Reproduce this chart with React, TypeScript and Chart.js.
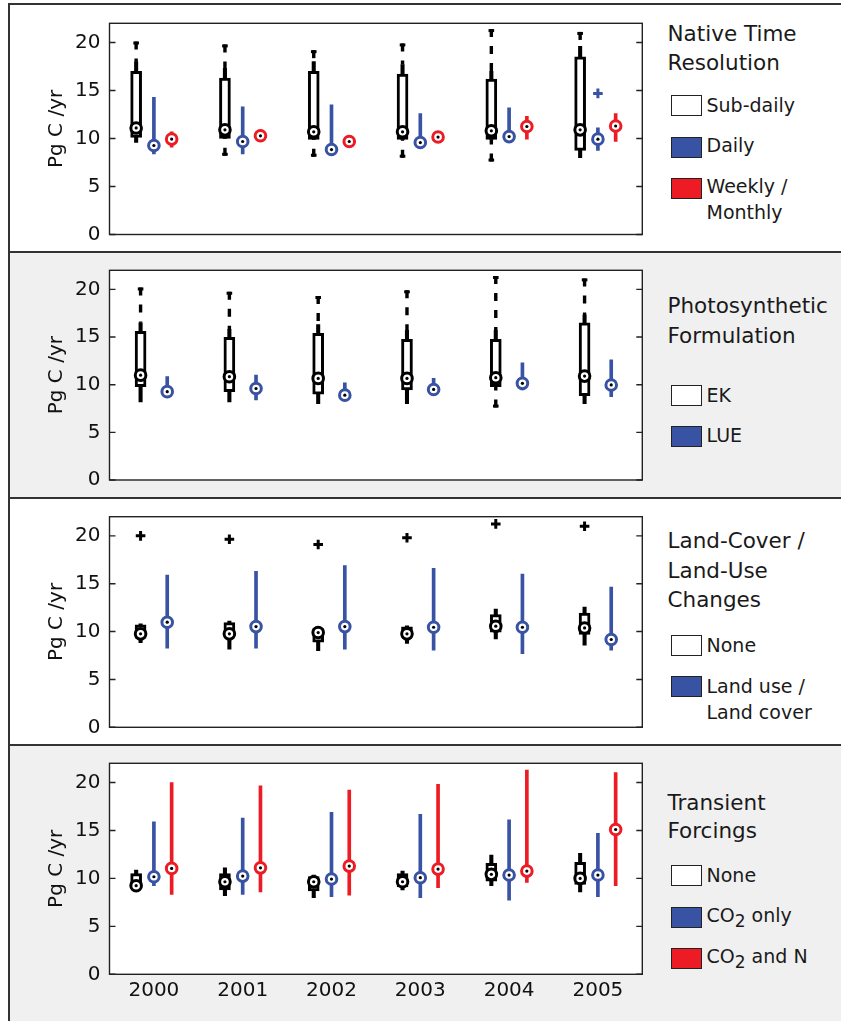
import React, { useEffect, useRef } from 'react';
import { Chart, registerables } from 'chart.js';

Chart.register(...registerables);

const FONT = "'DejaVu Sans', 'Liberation Sans', Arial, sans-serif";
const YEARS = ['2000', '2001', '2002', '2003', '2004', '2005'];
const Y_MIN = 0;
const Y_MAX = 22;
const Y_STEP = 5;
const Y_TITLE = 'Pg C /yr';

const BLACK = '#000000';
const BLUE = '#3953a4';
const RED = '#ed1c24';

// ---------- Panel 1: Native Time Resolution ----------
const NTR_SUB_MIN = [9.6, 8.2, 8.1, 8.0, 7.6, 8.0];
const NTR_SUB_LOWW = [9.6, 10.0, 9.9, 9.9, 9.9, 8.0];
const NTR_SUB_Q1 = [10.1, 10.0, 9.9, 9.9, 9.9, 8.75];
const NTR_SUB_MED = [11.1, 10.9, 10.7, 10.7, 10.8, 10.9];
const NTR_SUB_Q3 = [17.0, 16.3, 17.0, 16.7, 16.2, 18.5];
const NTR_SUB_HIGHW = [18.0, 17.3, 18.0, 17.7, 17.0, 19.6];
const NTR_SUB_MAX = [20.1, 19.8, 19.2, 19.9, 21.4, 21.1];

const NTR_DAY_LO = [8.4, 8.4, 8.5, 9.0, 9.7, 8.75];
const NTR_DAY_MED = [9.27, 9.69, 8.85, 9.58, 10.2, 9.93];
const NTR_DAY_HI = [14.3, 13.3, 13.5, 12.6, 13.2, 11.1];
const NTR_DAY_OUT = [null, null, null, null, null, 14.7];

const NTR_WEEK_LO = [9.1, 9.7, 9.4, 9.8, 9.93, 9.7];
const NTR_WEEK_MED = [9.94, 10.28, 9.69, 10.15, 11.25, 11.3];
const NTR_WEEK_HI = [10.7, 10.9, 10.0, 10.5, 12.3, 12.6];

// ---------- Panel 2: Photosynthetic Formulation ----------
const PF_EK_MIN = [8.2, 8.2, 8.0, 8.0, 7.6, 8.0];
const PF_EK_LOWW = [8.2, 8.2, 8.0, 8.0, 9.79, 8.0];
const PF_EK_Q1 = [9.79, 9.27, 9.0, 9.44, 9.79, 8.85];
const PF_EK_MED = [11.0, 10.84, 10.66, 10.66, 10.73, 10.9];
const PF_EK_Q3 = [15.6, 14.97, 15.4, 14.75, 14.75, 16.5];
const PF_EK_HIGHW = [16.5, 15.8, 16.3, 15.7, 15.7, 17.3];
const PF_EK_MAX = [20.2, 19.75, 19.3, 19.9, 21.4, 21.15];

const PF_LUE_LO = [9.0, 8.4, 8.6, 8.9, 9.44, 8.74];
const PF_LUE_MED = [9.27, 9.6, 8.9, 9.5, 10.14, 9.97];
const PF_LUE_HI = [10.84, 11.0, 10.2, 10.66, 12.3, 12.6];

// ---------- Panel 3: Land-Cover / Land-Use Changes ----------
const LC_NONE_MIN = [8.85, 8.15, 8.0, 8.75, 9.24, 8.58];
const LC_NONE_Q1 = [9.3, 9.4, 8.9, 9.4, 9.93, 9.7];
const LC_NONE_MED = [9.76, 9.76, 9.9, 9.76, 10.56, 10.38];
const LC_NONE_Q3 = [10.7, 10.94, 10.3, 10.5, 11.77, 11.94];
const LC_NONE_MAX = [10.8, 11.1, 10.4, 10.6, 12.36, 12.57];
const LC_NONE_OUT = [20.0, 19.65, 19.1, 19.8, 21.25, 21.0];

const LC_LU_LO = [8.26, 8.26, 8.15, 8.06, 7.7, 8.06];
const LC_LU_MED = [10.98, 10.52, 10.52, 10.45, 10.45, 9.17];
const LC_LU_HI = [15.9, 16.3, 16.9, 16.6, 16.0, 14.65];

// ---------- Panel 4: Transient Forcings ----------
const TF_NONE_MIN = [8.9, 8.2, 8.0, 8.8, 9.24, 8.6];
const TF_NONE_Q1 = [9.0, 8.8, 8.7, 9.1, 9.72, 9.38];
const TF_NONE_MED = [9.24, 9.65, 9.65, 9.65, 10.42, 10.0];
const TF_NONE_Q3 = [10.5, 10.5, 10.2, 10.5, 11.56, 11.67];
const TF_NONE_MAX = [10.87, 11.1, 10.35, 10.76, 12.43, 12.6];

const TF_CO2_LO = [9.24, 8.33, 8.1, 8.0, 7.74, 8.1];
const TF_CO2_MED = [10.17, 10.24, 9.93, 10.07, 10.35, 10.35];
const TF_CO2_HI = [15.9, 16.3, 16.9, 16.67, 16.1, 14.7];

const TF_CO2N_LO = [8.33, 8.6, 8.26, 9.03, 9.58, 9.24];
const TF_CO2N_MED = [11.04, 11.1, 11.28, 10.97, 10.76, 15.1];
const TF_CO2N_HI = [20.0, 19.65, 19.2, 19.8, 21.3, 21.04];

const NONE_OUT = [null, null, null, null, null, null];

type Series = {
  kind: 'box' | 'range';
  color: string;
  offset: number;
  min?: number[]; lowW?: number[]; q1?: number[]; q3?: number[]; highW?: number[]; max?: number[];
  lo?: number[]; hi?: number[];
  med: number[];
  out: (number | null)[];
};

const box = (color: string, offset: number, min: number[], lowW: number[], q1: number[], med: number[], q3: number[], highW: number[], max: number[], out: (number | null)[]): Series =>
  ({ kind: 'box', color, offset, min, lowW, q1, med, q3, highW, max, out });
const range = (color: string, offset: number, lo: number[], med: number[], hi: number[], out: (number | null)[]): Series =>
  ({ kind: 'range', color, offset, lo, med, hi, out });

const sub2 = (pre: string, post: string) => (
  <span>{pre}<span style={{ fontSize: 17, position: 'relative', top: 5 }}>2</span>{post}</span>
);

const PANELS: any[] = [
  {
    key: 'ntr', bg: '#ffffff', height: 246,
    padding: { left: 35, right: 17.7, top: 18.3, bottom: 16.5 }, showX: false,
    series: [
      box(BLACK, -0.2, NTR_SUB_MIN, NTR_SUB_LOWW, NTR_SUB_Q1, NTR_SUB_MED, NTR_SUB_Q3, NTR_SUB_HIGHW, NTR_SUB_MAX, NONE_OUT),
      range(BLUE, 0, NTR_DAY_LO, NTR_DAY_MED, NTR_DAY_HI, NTR_DAY_OUT),
      range(RED, 0.2, NTR_WEEK_LO, NTR_WEEK_MED, NTR_WEEK_HI, NONE_OUT),
    ],
    titles: [['Native Time', 17.5], ['Resolution', 46.8]],
    items: [
      { fill: '#ffffff', top: 90, lines: [['Sub-daily', 90.6]] },
      { fill: BLUE, top: 131.7, lines: [['Daily', 130.6]] },
      { fill: RED, top: 173.3, lines: [['Weekly /', 171.6], ['Monthly', 197.8]] },
    ],
  },
  {
    key: 'pf', bg: '#f0f0f0', height: 244,
    padding: { left: 35, right: 17.7, top: 17.3, bottom: 17 }, showX: false,
    series: [
      box(BLACK, -0.15, PF_EK_MIN, PF_EK_LOWW, PF_EK_Q1, PF_EK_MED, PF_EK_Q3, PF_EK_HIGHW, PF_EK_MAX, NONE_OUT),
      range(BLUE, 0.15, PF_LUE_LO, PF_LUE_MED, PF_LUE_HI, NONE_OUT),
    ],
    titles: [['Photosynthetic', 41.8], ['Formulation', 72.3]],
    items: [
      { fill: '#ffffff', top: 132, lines: [['EK', 132.6]] },
      { fill: BLUE, top: 172.5, lines: [['LUE', 173.1]] },
    ],
  },
  {
    key: 'lc', bg: '#ffffff', height: 245,
    padding: { left: 35, right: 17.7, top: 17.7, bottom: 16.7 }, showX: false,
    series: [
      box(BLACK, -0.15, LC_NONE_MIN, LC_NONE_MIN, LC_NONE_Q1, LC_NONE_MED, LC_NONE_Q3, LC_NONE_MAX, LC_NONE_MAX, LC_NONE_OUT),
      range(BLUE, 0.15, LC_LU_LO, LC_LU_MED, LC_LU_HI, NONE_OUT),
    ],
    titles: [['Land-Cover /', 30.8], ['Land-Use', 60.5], ['Changes', 90.3]],
    items: [
      { fill: '#ffffff', top: 136, lines: [['None', 136.6]] },
      { fill: BLUE, top: 177, lines: [['Land use /', 177.6], ['Land cover', 203.6]] },
    ],
  },
  {
    key: 'tf', bg: '#f0f0f0', height: 275,
    padding: { left: 35, right: 17.7, top: 17.3, bottom: 6.7 }, showX: true,
    series: [
      box(BLACK, -0.2, TF_NONE_MIN, TF_NONE_MIN, TF_NONE_Q1, TF_NONE_MED, TF_NONE_Q3, TF_NONE_MAX, TF_NONE_MAX, NONE_OUT),
      range(BLUE, 0, TF_CO2_LO, TF_CO2_MED, TF_CO2_HI, NONE_OUT),
      range(RED, 0.2, TF_CO2N_LO, TF_CO2N_MED, TF_CO2N_HI, NONE_OUT),
    ],
    titles: [['Transient', 45.8], ['Forcings', 74.1]],
    items: [
      { fill: '#ffffff', top: 119, lines: [['None', 119.6]] },
      { fill: BLUE, top: 160.7, lines: [[sub2('CO', ' only'), 159.6]] },
      { fill: RED, top: 202.3, lines: [[sub2('CO', ' and N'), 201.2]] },
    ],
  },
];

const CANVAS_W = 650;

function GlyphChart({ panel }: { panel: any }) {
  const ref = useRef<HTMLCanvasElement>(null);
  useEffect(() => {
    const canvas = ref.current;
    if (!canvas) return;
    const series: Series[] = panel.series;
    const datasets: any[] = [];
    const pts = (vals: (number | null)[], off: number) =>
      vals.map((v, i) => (v == null ? null : { x: i + off, y: v })).filter(Boolean);

    for (const s of series) {
      if (s.kind === 'box') {
        datasets.push({
          type: 'bar', data: YEARS.map((_, i) => ({ x: i + s.offset, y: [s.lowW![i], s.highW![i]] })),
          backgroundColor: s.color, borderWidth: 0, barThickness: 3.4, grouped: false, order: 6,
        });
        datasets.push({
          type: 'bar', data: YEARS.map((_, i) => ({ x: i + s.offset, y: [s.q1![i], s.q3![i]] })),
          backgroundColor: '#ffffff', borderColor: s.color, borderWidth: 3, borderSkipped: false,
          barThickness: 11, grouped: false, order: 5,
        });
      } else {
        datasets.push({
          type: 'bar', data: YEARS.map((_, i) => ({ x: i + s.offset, y: [s.lo![i], s.hi![i]] })),
          backgroundColor: s.color, borderWidth: 0, barThickness: 3, grouped: false, order: 6,
        });
      }
      datasets.push({
        type: 'scatter', data: pts(s.out, s.offset), pointStyle: 'cross', pointRadius: 4.8,
        pointBorderWidth: 3, pointBorderColor: s.color, order: 3,
      });
      datasets.push({
        type: 'scatter', data: pts(s.med, s.offset), pointStyle: 'circle', pointRadius: 5.3,
        pointBorderWidth: 3, pointBorderColor: s.color, pointBackgroundColor: '#ffffff', order: 2,
      });
      datasets.push({
        type: 'scatter', data: pts(s.med, s.offset), pointStyle: 'circle', pointRadius: 1.6,
        pointBorderWidth: 0, pointBackgroundColor: '#000000', order: 1,
      });
    }

    const framePlugin = {
      id: 'frame',
      beforeDraw(chart: any) {
        const { ctx, chartArea: a } = chart;
        ctx.save();
        ctx.fillStyle = '#ffffff';
        ctx.fillRect(a.left, a.top, a.right - a.left, a.bottom - a.top);
        ctx.restore();
      },
      beforeDatasetsDraw(chart: any) {
        const { ctx } = chart;
        const xs = chart.scales.x;
        const ys = chart.scales.y;
        ctx.save();
        for (const s of series) {
          if (s.kind !== 'box') continue;
          ctx.strokeStyle = s.color;
          ctx.fillStyle = s.color;
          ctx.lineWidth = 3.4;
          ctx.setLineDash([8, 9]);
          YEARS.forEach((_, i) => {
            const px = xs.getPixelForValue(i + s.offset);
            const pairs = [[s.max![i], s.highW![i]], [s.min![i], s.lowW![i]]];
            for (const [end, start] of pairs) {
              const yE = ys.getPixelForValue(end);
              const yS = ys.getPixelForValue(start);
              if (Math.abs(yE - yS) < 2) continue;
              ctx.beginPath();
              ctx.moveTo(px, yE);
              ctx.lineTo(px, yS);
              ctx.stroke();
              const down = yS > yE;
              ctx.fillRect(px - 2.8, down ? yE : yE - 3, 5.6, 3);
            }
          });
        }
        ctx.restore();
      },
      afterDraw(chart: any) {
        const { ctx, chartArea: a } = chart;
        const ys = chart.scales.y;
        ctx.save();
        ctx.strokeStyle = '#222222';
        ctx.lineWidth = 1.4;
        ctx.strokeRect(a.left, a.top, a.right - a.left, a.bottom - a.top);
        ctx.beginPath();
        ys.ticks.forEach((t: any) => {
          const py = ys.getPixelForValue(t.value);
          ctx.moveTo(a.left, py);
          ctx.lineTo(a.left + 6, py);
          ctx.moveTo(a.right, py);
          ctx.lineTo(a.right - 6, py);
        });
        ctx.stroke();
        ctx.restore();
      },
    };

    const xHeight = panel.showX ? 40 : 0;
    const chart = new Chart(canvas, {
      type: 'bar',
      data: { datasets },
      plugins: [framePlugin],
      options: {
        responsive: false,
        animation: false,
        events: [],
        layout: { padding: panel.padding },
        plugins: { legend: { display: false }, tooltip: { enabled: false } },
        scales: {
          x: {
            type: 'linear', min: -0.5, max: 5.5, offset: false, display: panel.showX,
            grid: { display: false, drawTicks: false }, border: { display: false },
            ticks: {
              autoSkip: false, maxRotation: 0, padding: 4,
              color: '#111111', font: { family: FONT, size: 20 },
              callback: (v: any) => (YEARS[Math.round(v)] ?? ''),
            },
            afterBuildTicks: (s: any) => { s.ticks = YEARS.map((_, i) => ({ value: i })); },
            afterFit: (s: any) => {
              s.height = xHeight;
              s.paddingLeft = 0; s.paddingRight = 0; s.paddingTop = 0; s.paddingBottom = 0;
            },
          },
          y: {
            type: 'linear', min: Y_MIN, max: Y_MAX,
            grid: { display: false, drawTicks: false }, border: { display: false },
            ticks: {
              stepSize: Y_STEP, includeBounds: false, padding: 9,
              color: '#111111', font: { family: FONT, size: 20 },
            },
            title: { display: true, text: Y_TITLE, color: '#111111', font: { family: FONT, size: 20 }, padding: 0 },
            afterFit: (s: any) => {
              s.width = 64.5;
              s.paddingTop = 0; s.paddingBottom = 0; s.paddingLeft = 0; s.paddingRight = 0;
            },
          },
        },
      } as any,
    });
    return () => chart.destroy();
  }, [panel]);
  return (
    <canvas
      ref={ref}
      width={CANVAS_W}
      height={panel.height}
      style={{ position: 'absolute', left: 0, top: 0, width: CANVAS_W, height: panel.height }}
    />
  );
}

function Panel({ panel }: { panel: any }) {
  return (
    <div style={{ position: 'relative', height: panel.height, background: panel.bg, borderTop: '2px solid #333333' }}>
      <GlyphChart panel={panel} />
      {panel.titles.map(([t, top]: [string, number], k: number) => (
        <div key={'t' + k} style={{ position: 'absolute', left: 657.5, top, fontFamily: FONT, fontSize: 21.5, lineHeight: '21.5px', whiteSpace: 'nowrap', color: '#1a1a1a' }}>{t}</div>
      ))}
      {panel.items.map((it: any, k: number) => (
        <React.Fragment key={'i' + k}>
          <div style={{ position: 'absolute', left: 661, top: it.top, width: 31, height: 21, boxSizing: 'border-box', border: '1.5px solid #222222', background: it.fill }} />
          {it.lines.map(([ln, top]: [any, number], j: number) => (
            <div key={j} style={{ position: 'absolute', left: 696.5, top, fontFamily: FONT, fontSize: 19, lineHeight: '19px', whiteSpace: 'nowrap', color: '#1a1a1a' }}>{ln}</div>
          ))}
        </React.Fragment>
      ))}
    </div>
  );
}

export default function App() {
  return (
    <div style={{ position: 'absolute', left: 8, top: 3, right: 0, height: 1018, borderLeft: '2px solid #333333', overflow: 'hidden', background: '#ffffff' }}>
      {PANELS.map((p) => <Panel key={p.key} panel={p} />)}
    </div>
  );
}
